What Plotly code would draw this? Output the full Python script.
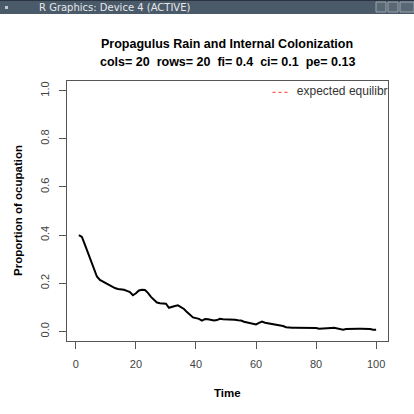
import plotly.graph_objects as go

# ---- data ----
time = list(range(1, 101))
occupation = [
    0.400, 0.392, 0.360, 0.325, 0.292, 0.260, 0.228, 0.214, 0.207, 0.202,
    0.195, 0.188, 0.180, 0.176, 0.175, 0.173, 0.168, 0.163, 0.150, 0.158,
    0.170, 0.173, 0.172, 0.160, 0.143, 0.130, 0.120, 0.117, 0.117, 0.115,
    0.098, 0.100, 0.105, 0.108, 0.100, 0.093, 0.080, 0.068, 0.058, 0.055,
    0.052, 0.045, 0.051, 0.050, 0.048, 0.045, 0.047, 0.052, 0.050, 0.050,
    0.050, 0.050, 0.048, 0.046, 0.045, 0.040, 0.038, 0.035, 0.033, 0.029,
    0.035, 0.041, 0.036, 0.034, 0.033, 0.030, 0.028, 0.026, 0.022, 0.017,
    0.015, 0.015, 0.015, 0.015, 0.015, 0.015, 0.014, 0.014, 0.014, 0.014,
    0.011, 0.011, 0.011, 0.012, 0.014, 0.015, 0.012, 0.008, 0.007, 0.010,
    0.011, 0.011, 0.011, 0.011, 0.011, 0.011, 0.011, 0.010, 0.007, 0.007,
]
x_ticks = [0, 20, 40, 60, 80, 100]
y_ticks = [0.0, 0.2, 0.4, 0.6, 0.8, 1.0]
y_tick_labels = ["0.0", "0.2", "0.4", "0.6", "0.8", "1.0"]
title_line1 = "Propagulus Rain and Internal Colonization"
title_line2 = "cols= 20  rows= 20  fi= 0.4  ci= 0.1  pe= 0.13"
legend_label = "expected equilibrium"

W = H = 414
ML, MR, MT, MB = 67, 26, 81, 73
PW, PH = W - ML - MR, H - MT - MB

def px(x):
    return (x - ML) / PW

def py(y):
    return (H - MB - y) / PH

FONT = "Liberation Sans, Arial, Helvetica, sans-serif"

fig = go.Figure()
fig.add_trace(go.Scatter(x=time, y=occupation, mode="lines",
                         line=dict(color="black", width=2), showlegend=False,
                         hoverinfo="skip"))
# legend text (clipped at the plot box like R)
fig.add_trace(go.Scatter(x=[73.6], y=[0.993], mode="text", text=[legend_label],
                         textposition="middle right", cliponaxis=True,
                         textfont=dict(family=FONT, size=12, color="#333333"),
                         showlegend=False, hoverinfo="skip"))

shapes = [
    # legend dashed sample
    dict(type="line", xref="paper", yref="paper", x0=px(272.5), x1=px(289.5),
         y0=py(92.3), y1=py(92.3), line=dict(color="#ff3030", width=1, dash="3px,3px")),
    # window title bar
    dict(type="rect", xref="paper", yref="paper", x0=px(0), x1=px(414),
         y0=py(14), y1=py(0), fillcolor="#4b5a68", line=dict(width=0), layer="above"),
    dict(type="rect", xref="paper", yref="paper", x0=px(0), x1=px(414),
         y0=py(1), y1=py(0), fillcolor="#2a3440", line=dict(width=0), layer="above"),
    dict(type="rect", xref="paper", yref="paper", x0=px(5), x1=px(8),
         y0=py(9), y1=py(6), fillcolor="#c0c8d0", line=dict(width=0), layer="above"),
    dict(type="rect", xref="paper", yref="paper", x0=px(376), x1=px(386),
         y0=py(12), y1=py(2), fillcolor="#5a6876", line=dict(color="#9aa4ae", width=1), layer="above"),
    dict(type="rect", xref="paper", yref="paper", x0=px(388), x1=px(398),
         y0=py(12), y1=py(2), fillcolor="#5a6876", line=dict(color="#9aa4ae", width=1), layer="above"),
    dict(type="rect", xref="paper", yref="paper", x0=px(400), x1=px(414),
         y0=py(12), y1=py(2), fillcolor="#5a6876", line=dict(color="#9aa4ae", width=1), layer="above"),
]

annotations = [
    dict(text="<b>" + title_line1 + "</b>", xref="paper", yref="paper",
         x=px(227), y=py(44), showarrow=False, xanchor="center", yanchor="middle",
         font=dict(family=FONT, size=12.5, color="black")),
    dict(text="<b>" + title_line2 + "</b>", xref="paper", yref="paper",
         x=px(228), y=py(61.5), showarrow=False, xanchor="center", yanchor="middle",
         font=dict(family=FONT, size=12.5, color="black")),
    dict(text="<b>Time</b>", xref="paper", yref="paper",
         x=px(227), y=py(392.5), showarrow=False, xanchor="center", yanchor="middle",
         font=dict(family=FONT, size=11.5, color="black")),
    dict(text="<b>Proportion of ocupation</b>", xref="paper", yref="paper",
         x=px(18), y=py(211), showarrow=False, xanchor="center", yanchor="middle",
         textangle=-90, font=dict(family=FONT, size=11.5, color="black")),
    dict(text="R Graphics: Device 4 (ACTIVE)", xref="paper", yref="paper",
         x=px(37), y=py(7.5), showarrow=False, xanchor="left", yanchor="middle",
         font=dict(family="DejaVu Sans, sans-serif", size=10, color="#e4e8ec")),
]

fig.update_layout(
    width=W, height=H,
    margin=dict(l=ML, r=MR, t=MT, b=MB, pad=0),
    paper_bgcolor="white", plot_bgcolor="white",
    shapes=shapes, annotations=annotations, showlegend=False,
    font=dict(family=FONT, size=11, color="#444444"),
    xaxis=dict(range=[-2.96, 103.96], tickmode="array", tickvals=x_ticks,
               ticks="outside", ticklen=7, tickcolor="#555555", tickwidth=1,
               showline=True, linecolor="#555555", linewidth=1, mirror=True,
               showgrid=False, zeroline=False, ticklabelstandoff=6,
               tickfont=dict(family=FONT, size=11, color="#444444")),
    yaxis=dict(range=[-0.04, 1.04], tickmode="array", tickvals=y_ticks,
               ticktext=y_tick_labels, tickangle=-90,
               ticks="outside", ticklen=7, tickcolor="#555555", tickwidth=1,
               showline=True, linecolor="#555555", linewidth=1, mirror=True,
               showgrid=False, zeroline=False, ticklabelstandoff=6,
               tickfont=dict(family=FONT, size=11, color="#444444")),
)

fig.write_html("out.html", config={"displayModeBar": False},
               post_script="document.body.style.margin='0';document.body.style.overflow='hidden';")
